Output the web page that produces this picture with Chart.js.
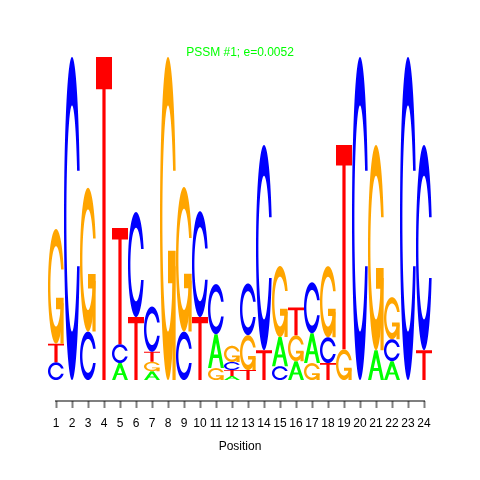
<!DOCTYPE html>
<html>
<head>
<meta charset="utf-8">
<script src="https://cdn.jsdelivr.net/npm/chart.js@4/dist/chart.umd.min.js"></script>
<style>
  html, body { margin: 0; padding: 0; background: #ffffff; }
  canvas { display: block; }
</style>
</head>
<body>
<canvas id="c" width="480" height="480"></canvas>
<script>
// ---- data (information content in bits) ----
const positions = ['1','2','3','4','5','6','7','8','9','10','11','12','13','14','15','16','17','18','19','20','21','22','23','24'];
const heightA = [0, 0, 0, 0, 0.105, 0, 0.055, 0, 0, 0, 0.21, 0.025, 0, 0, 0.18, 0.117, 0.185, 0, 0, 0, 0.185, 0.117, 0, 0];
const heightC = [0.11, 2.0, 0.30, 0, 0.117, 0.65, 0.28, 0, 0.30, 0.655, 0.31, 0.05, 0.32, 1.27, 0.086, 0, 0.315, 0.16, 0, 2.0, 0, 0.136, 2.0, 1.27];
const heightG = [0.71, 0, 0.89, 0, 0, 0, 0.058, 2.0, 0.895, 0, 0.074, 0.10, 0.216, 0, 0.44, 0.16, 0.105, 0.44, 0.19, 0, 1.27, 0.26, 0, 0];
const heightT = [0.115, 0, 0, 2.0, 0.72, 0.39, 0.062, 0, 0, 0.39, 0, 0.037, 0.062, 0.185, 0, 0.173, 0, 0.105, 1.265, 0, 0, 0, 0, 0.185];
const titleText = 'PSSM #1; e=0.0052';
const axisTitle = 'Position';
const yMin = -0.1296;
const yMax = 2;

const letterColors = { A: '#00FF00', C: '#0000FF', G: '#FFA500', T: '#FF0000' };

// ---- build stack levels (letters sorted ascending by height in each column) ----
const nLevels = 4;
const levels = [];
for (let k = 0; k < nLevels; k++) levels.push({ data: [], letters: [] });
positions.forEach((p, i) => {
  const col = [['A', heightA[i]], ['C', heightC[i]], ['G', heightG[i]], ['T', heightT[i]]]
    .filter(d => d[1] > 0)
    .sort((a, b) => a[1] - b[1]);
  for (let k = 0; k < nLevels; k++) {
    levels[k].data.push(col[k] ? col[k][1] : 0);
    levels[k].letters.push(col[k] ? col[k][0] : null);
  }
});

// ---- seqLogo-style letter shapes in unit square (x right, y up) ----
function seq(a, b, n) { const r = []; for (let i = 0; i < n; i++) r.push(a + (b - a) * i / (n - 1)); return r; }
function makeC() {
  const a1 = seq(0.3 + Math.PI / 2, Math.PI, 100);
  const a2 = seq(Math.PI, 1.5 * Math.PI, 100);
  const xl1 = a1.map(a => 0.5 + 0.5 * Math.sin(a)), yl1 = a1.map(a => 0.5 + 0.5 * Math.cos(a));
  const xl2 = a2.map(a => 0.5 + 0.5 * Math.sin(a)), yl2 = a2.map(a => 0.5 + 0.5 * Math.cos(a));
  const xl = xl1.concat(xl2), yl = yl1.concat(yl2);
  const x = xl.concat(xl.slice().reverse());
  const y = yl.concat(yl.slice().reverse().map(v => 1 - v));
  const maxy = Math.max(...yl1);
  let xi1 = a1.map(a => 0.5 + 0.35 * Math.sin(a)), yi1 = a1.map(a => 0.5 + 0.35 * Math.cos(a));
  const keep = yi1.map(v => v <= maxy);
  xi1 = xi1.filter((_, i) => keep[i]); yi1 = yi1.filter((_, i) => keep[i]);
  yi1[0] = maxy;
  const xi2 = a2.map(a => 0.5 + 0.35 * Math.sin(a)), yi2 = a2.map(a => 0.5 + 0.35 * Math.cos(a));
  const xi = xi1.concat(xi2), yi = yi1.concat(yi2);
  const x1 = xi.concat(xi.slice().reverse());
  const y1 = yi.concat(yi.slice().reverse().map(v => 1 - v));
  return { x: x.concat(x1.slice().reverse()), y: y.concat(y1.slice().reverse()), r1: Math.max(...xl1) };
}
const shapeC = makeC();
const r1 = shapeC.r1;
const shapes = {
  A: [
    { x: [0, .4, .6, 1, .8, .68, .32, .2, 0], y: [0, 1, 1, 0, 0, .3, .3, 0, 0], fill: null },
    { x: [.36, .5, .64, .36], y: [.4, .75, .4, .4], fill: '#FFFFFF' }
  ],
  C: [{ x: shapeC.x, y: shapeC.y, fill: null }],
  G: [
    { x: shapeC.x, y: shapeC.y, fill: null },
    { x: [r1, .5, .5, r1 - .2, r1 - .2, r1, r1], y: [.4, .4, .3, .3, 0, 0, .4], fill: null }
  ],
  T: [{ x: [0, 1, 1, .6, .6, .4, .4, 0], y: [1, 1, .9, .9, 0, 0, .9, .9], fill: null }]
};

const logoPlugin = {
  id: 'logoLetters',
  afterDatasetsDraw(chart) {
    const ctx = chart.ctx;
    ctx.save();
    chart.data.datasets.forEach((ds, k) => {
      const meta = chart.getDatasetMeta(k);
      meta.data.forEach((el, i) => {
        const letter = ds.letters[i];
        if (!letter || !(ds.data[i] > 0)) return;
        const p = el.getProps(['x', 'y', 'base', 'width'], true);
        const left = p.x - p.width / 2, w = p.width;
        const bottom = p.base, h = p.base - p.y;
        shapes[letter].forEach(poly => {
          ctx.beginPath();
          poly.x.forEach((xx, j) => {
            const px = left + xx * w, py = bottom - poly.y[j] * h;
            if (j === 0) ctx.moveTo(px, py); else ctx.lineTo(px, py);
          });
          ctx.closePath();
          ctx.fillStyle = poly.fill || letterColors[letter];
          ctx.fill();
        });
      });
    });
    ctx.restore();
  }
};

const axisLinePlugin = {
  id: 'axisLine',
  afterDraw(chart) {
    const xs = chart.scales.x;
    const ctx = chart.ctx;
    const x0 = xs.getPixelForValue(0), x1 = xs.getPixelForValue(positions.length - 1);
    const y = xs.top;
    ctx.save();
    ctx.strokeStyle = 'rgba(0,0,0,0.5)';
    ctx.lineWidth = 2;
    ctx.beginPath();
    ctx.moveTo(x0 - 1, y);
    ctx.lineTo(x1 + 1, y);
    ctx.stroke();
    ctx.restore();
  }
};

Chart.defaults.font.family = "'Liberation Sans', Arial, Helvetica, sans-serif";

new Chart(document.getElementById('c'), {
  type: 'bar',
  data: {
    labels: positions,
    datasets: levels.map((lv, k) => ({
      label: 'level ' + (k + 1),
      data: lv.data,
      letters: lv.letters,
      backgroundColor: 'rgba(0,0,0,0)',
      borderWidth: 0,
      barPercentage: 1,
      categoryPercentage: 1
    }))
  },
  options: {
    responsive: false,
    animation: false,
    events: [],
    layout: { padding: { left: 48, right: 48, top: 48, bottom: 21.8 } },
    plugins: {
      legend: { display: false },
      tooltip: { enabled: false },
      title: {
        display: true, text: titleText, color: '#00FF00',
        font: { size: 12, weight: 'normal', lineHeight: 0.75 }, padding: 0
      }
    },
    scales: {
      x: {
        stacked: true,
        offset: true,
        grid: { display: true, offset: false, drawOnChartArea: false, drawTicks: true, tickLength: 7, tickWidth: 2, tickColor: 'rgba(0,0,0,0.5)' },
        border: { display: false },
        ticks: { color: '#000', font: { size: 12 }, padding: 8, autoSkip: false, maxRotation: 0 },
        title: { display: true, text: axisTitle, color: '#000', font: { size: 12 }, padding: { top: 1.4, bottom: 4 } }
      },
      y: { stacked: true, display: false, min: yMin, max: yMax }
    }
  },
  plugins: [logoPlugin, axisLinePlugin]
});
</script>
</body>
</html>
